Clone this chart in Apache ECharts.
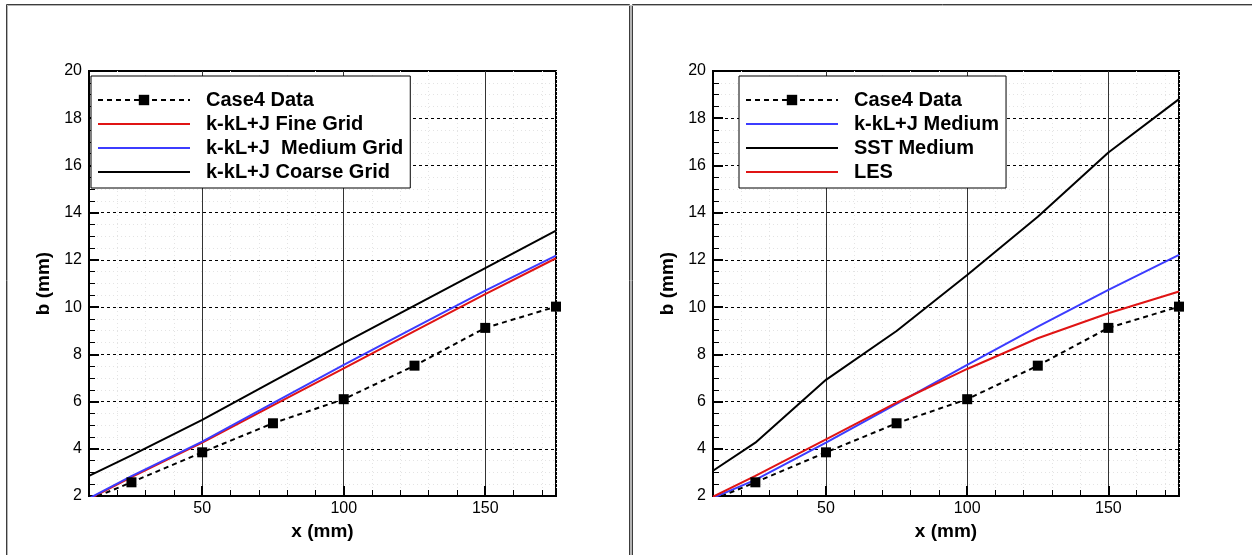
<!DOCTYPE html>
<html>
<head>
<meta charset="utf-8">
<script src="https://cdn.jsdelivr.net/npm/echarts@6/dist/echarts.min.js"></script>
<style>
  html, body { margin: 0; padding: 0; background: #fff; }
  #chart { width: 1252px; height: 555px; }
</style>
</head>
<body>
<div id="chart"></div>
<script>
// ---------- data ----------
const xData = [10, 25, 50, 75, 100, 125, 150, 175];
const case4Data = [1.84, 2.58, 3.85, 5.08, 6.10, 7.52, 9.12, 10.02];

// left panel
const kklFine   = [1.87, 2.80, 4.26, 5.84, 7.41, 8.98, 10.55, 12.07];
const kklMedium = [1.90, 2.84, 4.30, 5.93, 7.55, 9.13, 10.70, 12.18];
const kklCoarse = [2.85, 3.72, 5.22, 6.85, 8.47, 10.06, 11.65, 13.24];

// right panel
const kklMediumR = [1.92, 2.68, 4.26, 5.90, 7.55, 9.17, 10.73, 12.21];
const sstMedium  = [3.07, 4.26, 6.92, 8.99, 11.36, 13.83, 16.55, 18.81];
const les        = [1.97, 2.85, 4.40, 5.95, 7.38, 8.68, 9.74, 10.66];

const xMajorTicks = [50, 100, 150];
const xMin = 10, xMax = 175;
const yMin = 2, yMax = 20, yInterval = 2;

const legendLeft  = ['Case4 Data', 'k-kL+J Fine Grid', 'k-kL+J  Medium Grid', 'k-kL+J Coarse Grid'];
const legendRight = ['Case4 Data', 'k-kL+J Medium', 'SST Medium', 'LES'];

// ---------- helpers ----------
const FONT = 'Liberation Sans, Arial, Helvetica, sans-serif';
const pairs = (ys) => xData.map((x, i) => [x, ys[i]]);
const RED = '#e01414', BLUE = '#3c3cff', BLACK = '#000000';
const MINOR = '#e4e4e4';

function majorX(gi) {
  return {
    type: 'value', gridIndex: gi, min: xMin, max: xMax, position: 'bottom', z: 2,
    axisLine: { show: true, onZero: false, lineStyle: { color: '#000', width: 2 } },
    axisTick: { show: true, inside: true, length: 10, customValues: xMajorTicks, lineStyle: { color: '#000', width: 2 } },
    axisLabel: { show: true, customValues: xMajorTicks, fontSize: 16, color: '#000', margin: 5, fontFamily: FONT },
    splitLine: { show: true, lineStyle: { color: '#333', width: 1, type: 'solid' } },
    name: 'x (mm)', nameLocation: 'middle', nameGap: 20,
    nameTextStyle: { fontSize: 19, fontWeight: 'bold', color: '#000', fontFamily: FONT }
  };
}
function minorX(gi) {
  return {
    type: 'value', gridIndex: gi, min: xMin, max: xMax, interval: 10, position: 'bottom', z: 0,
    axisLine: { show: false },
    axisTick: { show: true, inside: true, length: 6, lineStyle: { color: '#000', width: 1 } },
    axisLabel: { show: false },
    splitLine: { show: true, lineStyle: { color: MINOR, width: 1, type: [1, 3] } }
  };
}
function yAx(gi) {
  return {
    type: 'value', gridIndex: gi, min: yMin, max: yMax, interval: yInterval, z: 1,
    axisLine: { show: true, onZero: false, lineStyle: { color: '#000', width: 2 } },
    axisTick: { show: true, inside: true, length: 10, lineStyle: { color: '#000', width: 2 } },
    minorTick: { show: true, splitNumber: 4, length: 6, lineStyle: { color: '#000', width: 1 } },
    axisLabel: { fontSize: 16, color: '#000', margin: 7, fontFamily: FONT },
    splitLine: { show: true, lineStyle: { color: '#000', width: 1, type: [3, 3] } },
    minorSplitLine: { show: true, lineStyle: { color: MINOR, width: 1, type: [1, 3] } },
    name: 'b (mm)', nameLocation: 'middle', nameGap: 36,
    nameTextStyle: { fontSize: 19, fontWeight: 'bold', color: '#000', fontFamily: FONT }
  };
}
function lineSeries(name, ys, color, gi) {
  return {
    name, type: 'line', xAxisIndex: gi * 2, yAxisIndex: gi, data: pairs(ys),
    symbol: 'none', color, lineStyle: { color, width: 2 }, silent: true, z: 3
  };
}
function dataSeries(gi) {
  const d = pairs(case4Data).map((p, i) => i === 0 ? { value: p, symbol: 'none' } : p);
  return {
    name: 'Case4 Data', type: 'line', xAxisIndex: gi * 2, yAxisIndex: gi, data: d,
    symbol: 'rect', symbolSize: 10, showAllSymbol: true, color: '#000',
    itemStyle: { color: '#000' },
    lineStyle: { color: '#000', width: 2, type: [5, 4] }, silent: true, z: 4
  };
}
function legend(left, names) {
  return {
    left, top: 76, orient: 'vertical', selectedMode: false,
    data: names.map((n, i) => i === 0 ? { name: n } : { name: n, itemStyle: { opacity: 0 } }),
    itemWidth: 92, itemHeight: 13, itemGap: 0,
    textStyle: { fontSize: 20, fontWeight: 'bold', color: '#000', lineHeight: 24, padding: [0, 0, 0, 11], fontFamily: FONT },
    backgroundColor: '#fff', borderColor: '#000', borderWidth: 1, borderRadius: 0,
    padding: [12, 7, 4, 6]
  };
}

const option = {
  animation: false,
  backgroundColor: '#fff',
  textStyle: { fontFamily: FONT },
  grid: [
    { left: 89, top: 71, width: 467, height: 425, show: true, borderColor: '#000', borderWidth: 2, backgroundColor: 'transparent' },
    { left: 713, top: 71, width: 466, height: 425, show: true, borderColor: '#000', borderWidth: 2, backgroundColor: 'transparent' }
  ],
  xAxis: [majorX(0), minorX(0), majorX(1), minorX(1)],
  yAxis: [yAx(0), yAx(1)],
  legend: [legend(91, legendLeft), legend(739, legendRight)],
  series: [
    lineSeries('k-kL+J Fine Grid', kklFine, RED, 0),
    lineSeries('k-kL+J  Medium Grid', kklMedium, BLUE, 0),
    lineSeries('k-kL+J Coarse Grid', kklCoarse, BLACK, 0),
    dataSeries(0),
    lineSeries('k-kL+J Medium', kklMediumR, BLUE, 1),
    lineSeries('SST Medium', sstMedium, BLACK, 1),
    lineSeries('LES', les, RED, 1),
    dataSeries(1)
  ],
  graphic: [
    // panel frames
    { type: 'polyline', shape: { points: [[6.5, 600], [6.5, 4.5], [629.5, 4.5], [629.5, 600]] }, style: { stroke: '#3c3c3c', lineWidth: 1, fill: null }, silent: true },
    { type: 'polyline', shape: { points: [[7.5, 600], [7.5, 5.5], [630.5, 5.5], [630.5, 600]] }, style: { stroke: '#b4b4b4', lineWidth: 1, fill: null }, silent: true },
    { type: 'polyline', shape: { points: [[632.5, 600], [632.5, 4.5], [1260, 4.5]] }, style: { stroke: '#3c3c3c', lineWidth: 1, fill: null }, silent: true },
    { type: 'polyline', shape: { points: [[631.5, 600], [631.5, 5.5], [1260, 5.5]] }, style: { stroke: '#b4b4b4', lineWidth: 1, fill: null }, silent: true }
  ]
};

const chart = echarts.init(document.getElementById('chart'), null, { renderer: 'canvas' });
chart.setOption(option);
</script>
</body>
</html>
